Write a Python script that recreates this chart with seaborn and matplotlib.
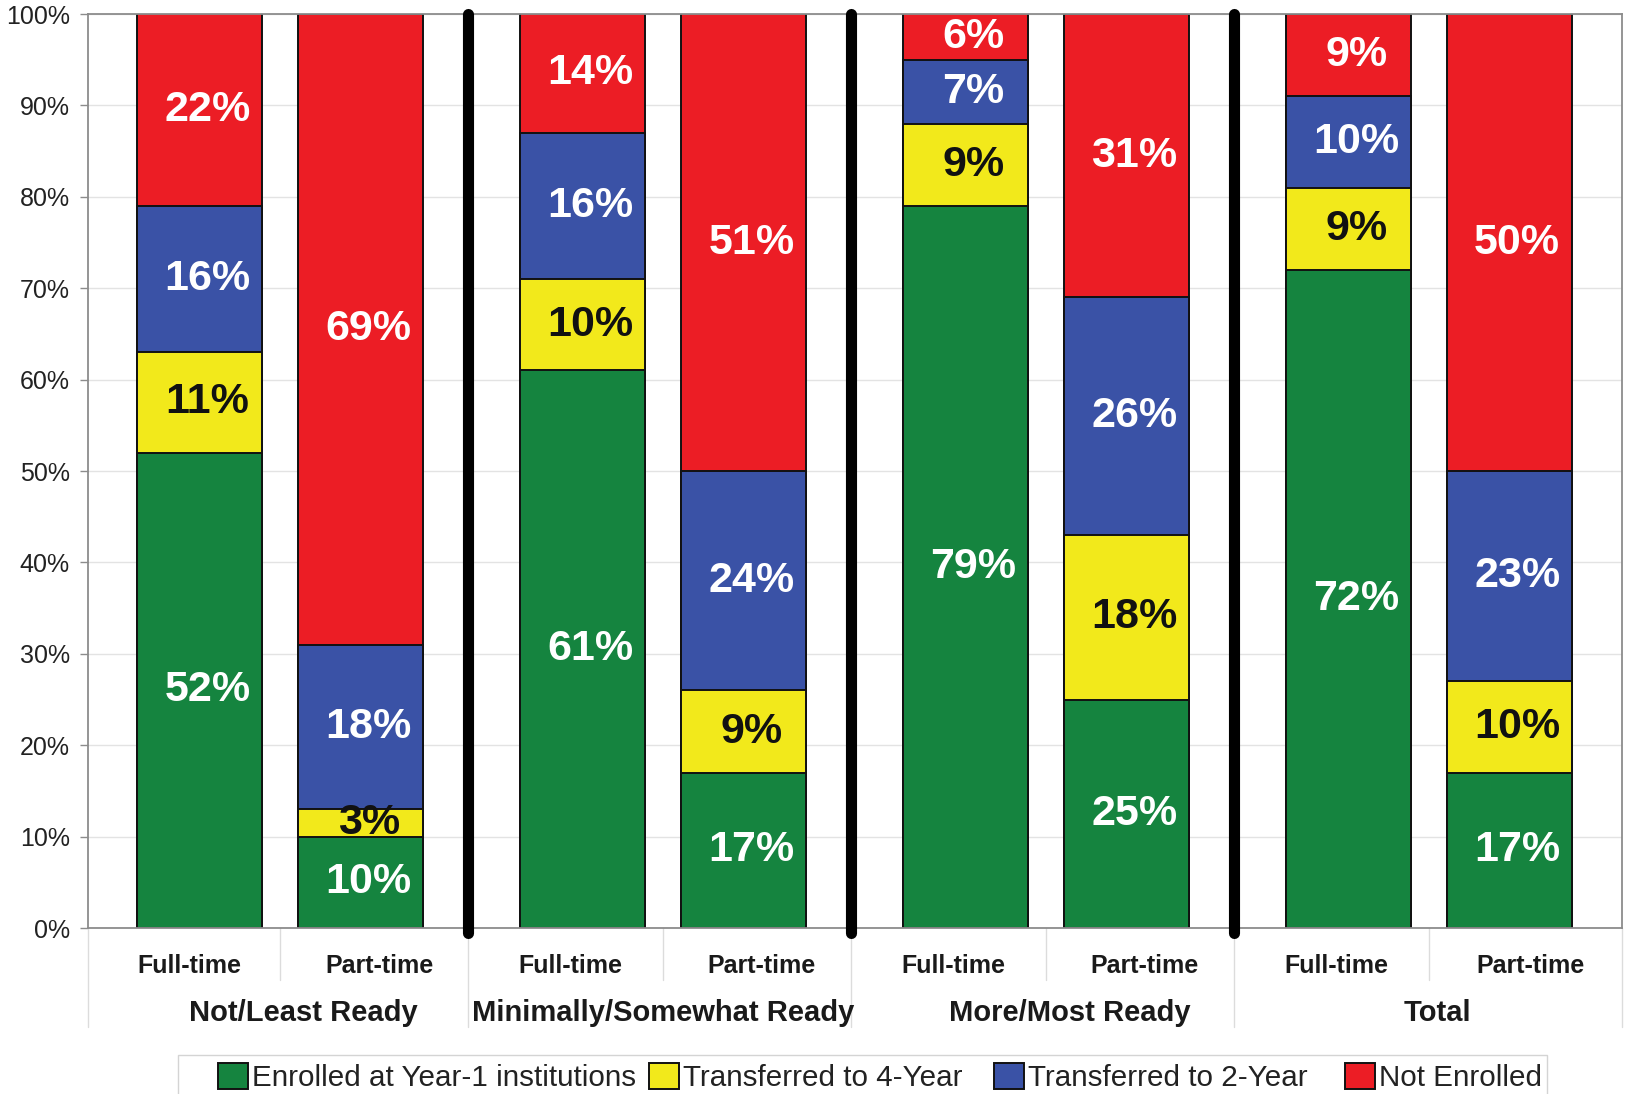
import numpy as np
import pandas as pd
import matplotlib
matplotlib.use("Agg")
import matplotlib.pyplot as plt
from matplotlib.patches import Patch, Rectangle
import seaborn as sns

# Readiness groups, attendance status and outcome categories
groups = ["Not/Least Ready", "Minimally/Somewhat Ready", "More/Most Ready", "Total"]
statuses = ["Full-time", "Part-time"]
series = ["Enrolled at Year-1 institutions", "Transferred to 4-Year",
          "Transferred to 2-Year", "Not Enrolled"]

# Percent of students per outcome, one entry per bar (FT, PT for each group)
enrolled = [52, 10, 61, 17, 79, 25, 72, 17]
transferred_4yr = [11, 3, 10, 9, 9, 18, 9, 10]
transferred_2yr = [16, 18, 16, 24, 7, 26, 10, 23]
not_enrolled = [22, 69, 14, 51, 6, 31, 9, 50]

colors = ["#15843F", "#F2E91B", "#3A52A6", "#EC1D25"]
label_colors = ["white", "#111111", "white", "white"]

sns.set_theme(style="whitegrid")
plt.rcParams["font.family"] = ["Liberation Sans", "DejaVu Sans"]

GROUP_STEP = 2.378
BAR_WIDTH = 0.776
pos = [g * GROUP_STEP + s for g in range(len(groups)) for s in range(len(statuses))]

values = np.array([enrolled, transferred_4yr, transferred_2yr, not_enrolled])
cum = values.cumsum(axis=0)

W, H = 1627, 1094
fig = plt.figure(figsize=(W / 100, H / 100), dpi=100)
ax = fig.add_axes([0.0541, 0.1517, 0.9428, 0.8355])

# Stacked bars: draw cumulative totals from the top layer down
for k in reversed(range(len(series))):
    df = pd.DataFrame({"pos": pos, "top": cum[k]})
    sns.barplot(data=df, x="pos", y="top", native_scale=True, color=colors[k],
                saturation=1, width=BAR_WIDTH, edgecolor="#111111", linewidth=1.4,
                errorbar=None, ax=ax, zorder=2)

# Segment value labels, centred on the visible part of each segment
for k in range(len(series)):
    for i, x in enumerate(pos):
        v = values[k, i]
        top = min(cum[k, i], 100)
        bottom = cum[k, i] - v
        yc = (top + bottom) / 2
        ax.text(x + 0.05, yc, f"{v}%", ha="center", va="center", fontsize=31,
                fontweight="bold", color=label_colors[k], zorder=4)

xmin, xmax = -0.693, 8.835
ax.set_xlim(xmin, xmax)
ax.set_ylim(0, 100)
ax.set_axisbelow(True)
ax.grid(axis="x", visible=False)
ax.grid(axis="y", color="#e3e3e3", linewidth=1)

ax.set_yticks(range(0, 101, 10))
ax.set_yticklabels([f"{v}%" for v in range(0, 101, 10)], fontsize=18, color="#222222")
ax.tick_params(axis="y", length=6, width=1, color="#8c8c8c", pad=7, left=True)
ax.set_xticks([])
ax.set_xlabel("")
ax.set_ylabel("")
for side in ["left", "bottom", "top", "right"]:
    ax.spines[side].set_color("#8c8c8c")
    ax.spines[side].set_linewidth(1.3)

# Thick separators between readiness groups
seps = [(pos[2 * g + 1] + pos[2 * g + 2]) / 2 - 0.02 for g in range(len(groups) - 1)]
for s in seps:
    ax.axvline(s, ymin=-0.005, ymax=1, color="black", linewidth=8, clip_on=False, zorder=5)

# Two-level category axis
trans = ax.get_xaxis_transform()
bounds = [xmin] + seps + [xmax]
group_shift = [0.155, 0.02, 0.17, 0.06]
for b in bounds:
    ax.plot([b, b], [0, -0.108], transform=trans, color="#dcdcdc", linewidth=1, clip_on=False)
for g in range(len(groups)):
    left, right = bounds[g], bounds[g + 1]
    mid = (pos[2 * g] + pos[2 * g + 1]) / 2
    ax.plot([mid, mid], [0, -0.057], transform=trans, color="#dcdcdc", linewidth=1, clip_on=False)
    ax.text((left + mid) / 2 + 0.03, -0.0416, statuses[0], transform=trans, ha="center",
            va="center", fontsize=18, fontweight="bold", color="#1a1a1a")
    ax.text((mid + right) / 2 + 0.03, -0.0416, statuses[1], transform=trans, ha="center",
            va="center", fontsize=18, fontweight="bold", color="#1a1a1a")
    ax.text((left + right) / 2 + group_shift[g], -0.093, groups[g], transform=trans,
            ha="center", va="center", fontsize=21, fontweight="bold", color="#1a1a1a")

# Legend box along the bottom edge, one entry per outcome
fig.patches.append(Rectangle((178 / W, -0.01), (1547 - 178) / W, 0.01 + (H - 1055) / H,
                             transform=fig.transFigure, facecolor="white",
                             edgecolor="#d4d4d4", linewidth=1, zorder=0))
entry_x = [218, 649, 994, 1345]
for c, name, ex in zip(colors, series, entry_x):
    leg = fig.legend([Patch(facecolor=c, edgecolor="#111111", linewidth=1.4)], [name],
                     loc="upper left", bbox_to_anchor=(ex / W, 1 - 1063 / H),
                     fontsize=21.3, frameon=False, handlelength=1.0, handleheight=1.0,
                     handletextpad=0.15, borderpad=0, borderaxespad=0)
    for t in leg.get_texts():
        t.set_color("#222222")

fig.savefig("out.png", dpi=100, facecolor="white")
